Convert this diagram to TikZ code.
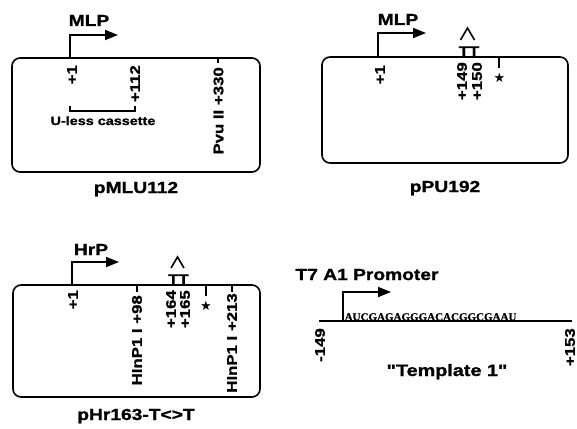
\documentclass[tikz,border=0pt]{standalone}
\usepackage{fontspec}
\setmainfont{Liberation Sans}[FakeStretch=1.2, Ligatures=TeXOff, BoldFeatures={FakeBold=1.2}]
\newfontfamily\seqfont{Liberation Serif}[Ligatures=TeXOff, BoldFeatures={FakeBold=0.8}]
\newfontfamily\symfont{DejaVu Sans}
\usetikzlibrary{arrows.meta}
\begin{document}
\begin{tikzpicture}[x=1pt,y=-1pt,
  box/.style={draw, line width=1.6pt, rounded corners=8pt, inner sep=0pt},
  prom/.style={line width=1.8pt, -{Triangle[length=13pt,width=10pt]}},
  lab/.style={font=\fontsize{14}{14}\selectfont\bfseries, rotate=90, anchor=east, inner sep=0pt},
  ttlab/.style={font=\fontsize{14}{14}\selectfont\bfseries, anchor=base, inner sep=0pt},
  title/.style={font=\fontsize{16}{16}\selectfont\bfseries, anchor=base, inner sep=0pt},
  small/.style={font=\fontsize{12}{12}\selectfont\bfseries, anchor=base, inner sep=0pt},
  tickline/.style={line width=1.4pt},
  caret/.style={line width=1.6pt},
  starlab/.style={font=\symfont\fontsize{13}{13}\selectfont, inner sep=0pt}
]
\useasboundingbox (0,0) rectangle (577,428);

% ---------- pMLU112 ----------
\node[box, minimum width=248pt, minimum height=114pt] (b1) at (136,115) {};
\coordinate (p1s) at (70,58);
\coordinate (p1e) at (118,35);
\draw[prom] (p1s) |- (p1e);
\node[title] (mlp1) at (89,26) {MLP};
\node[lab] (b1l1) at (72,65) {+1};
\node[lab] (b1l2) at (135,65) {+112};
\coordinate (t330a) at (218,58);
\coordinate (t330b) at (218,63);
\draw[tickline] (t330a) -- (t330b);
\node[lab] (b1l3) at (218.5,67) {Pvu II  +330};
\coordinate (br1) at (70,106);
\coordinate (br2) at (135,106);
\draw[line width=1.2pt] (br1) -- ++(0,5) -| (br2);
\node[small] (uless) at (103,125) {U-less cassette};
\node[title] (t1) at (136,193) {pMLU112};

% ---------- pPU192 ----------
\node[box, minimum width=246pt, minimum height=106pt] (b2) at (445,110) {};
\coordinate (p2s) at (378,57);
\coordinate (p2e) at (426,33);
\draw[prom] (p2s) |- (p2e);
\node[title] (mlp2) at (398,25) {MLP};
\node[lab] (b2l1) at (380,65) {+1};
\node[ttlab] (tt2) at (469,56) {TT};
\draw[caret] (460.5,40) -- (467.5,28) -- (474.5,40);
\node[lab] (b2l2) at (462,62) {+149};
\node[lab] (b2l3) at (477,62) {+150};
\coordinate (s2a) at (499,57);
\coordinate (s2b) at (499,68);
\draw[tickline] (s2a) -- (s2b);
\node[starlab] (star2) at (499.5,78) {★};
\node[title] (t2) at (445,192) {pPU192};

% ---------- pHr163-T<>T ----------
\node[box, minimum width=247pt, minimum height=112pt] (b3) at (136.5,341) {};
\coordinate (p3s) at (72,285);
\coordinate (p3e) at (119,262);
\draw[prom] (p3s) |- (p3e);
\node[title] (hrp) at (91,255) {HrP};
\node[lab] (b3l1) at (73,290) {+1};
\coordinate (h98a) at (137,285);
\coordinate (h98b) at (137,292);
\draw[tickline] (h98a) -- (h98b);
\node[lab] (b3l2) at (137,295) {HInP1 I  +98};
\node[ttlab] (tt3) at (178.5,284) {TT};
\draw[caret] (171,268) -- (177.5,257) -- (184,268);
\node[lab] (b3l3) at (171,290) {+164};
\node[lab] (b3l4) at (185,290) {+165};
\coordinate (s3a) at (206,285);
\coordinate (s3b) at (206,296);
\draw[tickline] (s3a) -- (s3b);
\node[starlab] (star3) at (206,306) {★};
\coordinate (h213a) at (232,285);
\coordinate (h213b) at (232,292);
\draw[tickline] (h213a) -- (h213b);
\node[lab] (b3l5) at (232,293) {HInP1 I  +213};
\node[title] (t3) at (136,420) {pHr163-T<>T};

% ---------- Template 1 ----------
\coordinate (la) at (319,321);
\coordinate (lb) at (572,321);
\draw[line width=1.4pt] (la) -- (lb);
\coordinate (p4s) at (343,321);
\coordinate (p4e) at (391,292);
\draw[prom] (p4s) |- (p4e);
\node[title] (t7) at (367,280) {T7 A1 Promoter};
\node[font=\seqfont\bfseries\fontsize{11}{11}\selectfont, anchor=base west, inner sep=0pt] (seq) at (344.5,320.5) {AUCGAGAGGGACACGGCGAAU};
\node[lab] (m149) at (320,328) {-149};
\node[lab] (p153) at (570,328) {+153};
\node[font=\fontsize{16.5}{16.5}\selectfont\bfseries, anchor=base, inner sep=0pt] (t4) at (447,376) {"Template 1"};
\end{tikzpicture}
\end{document}
